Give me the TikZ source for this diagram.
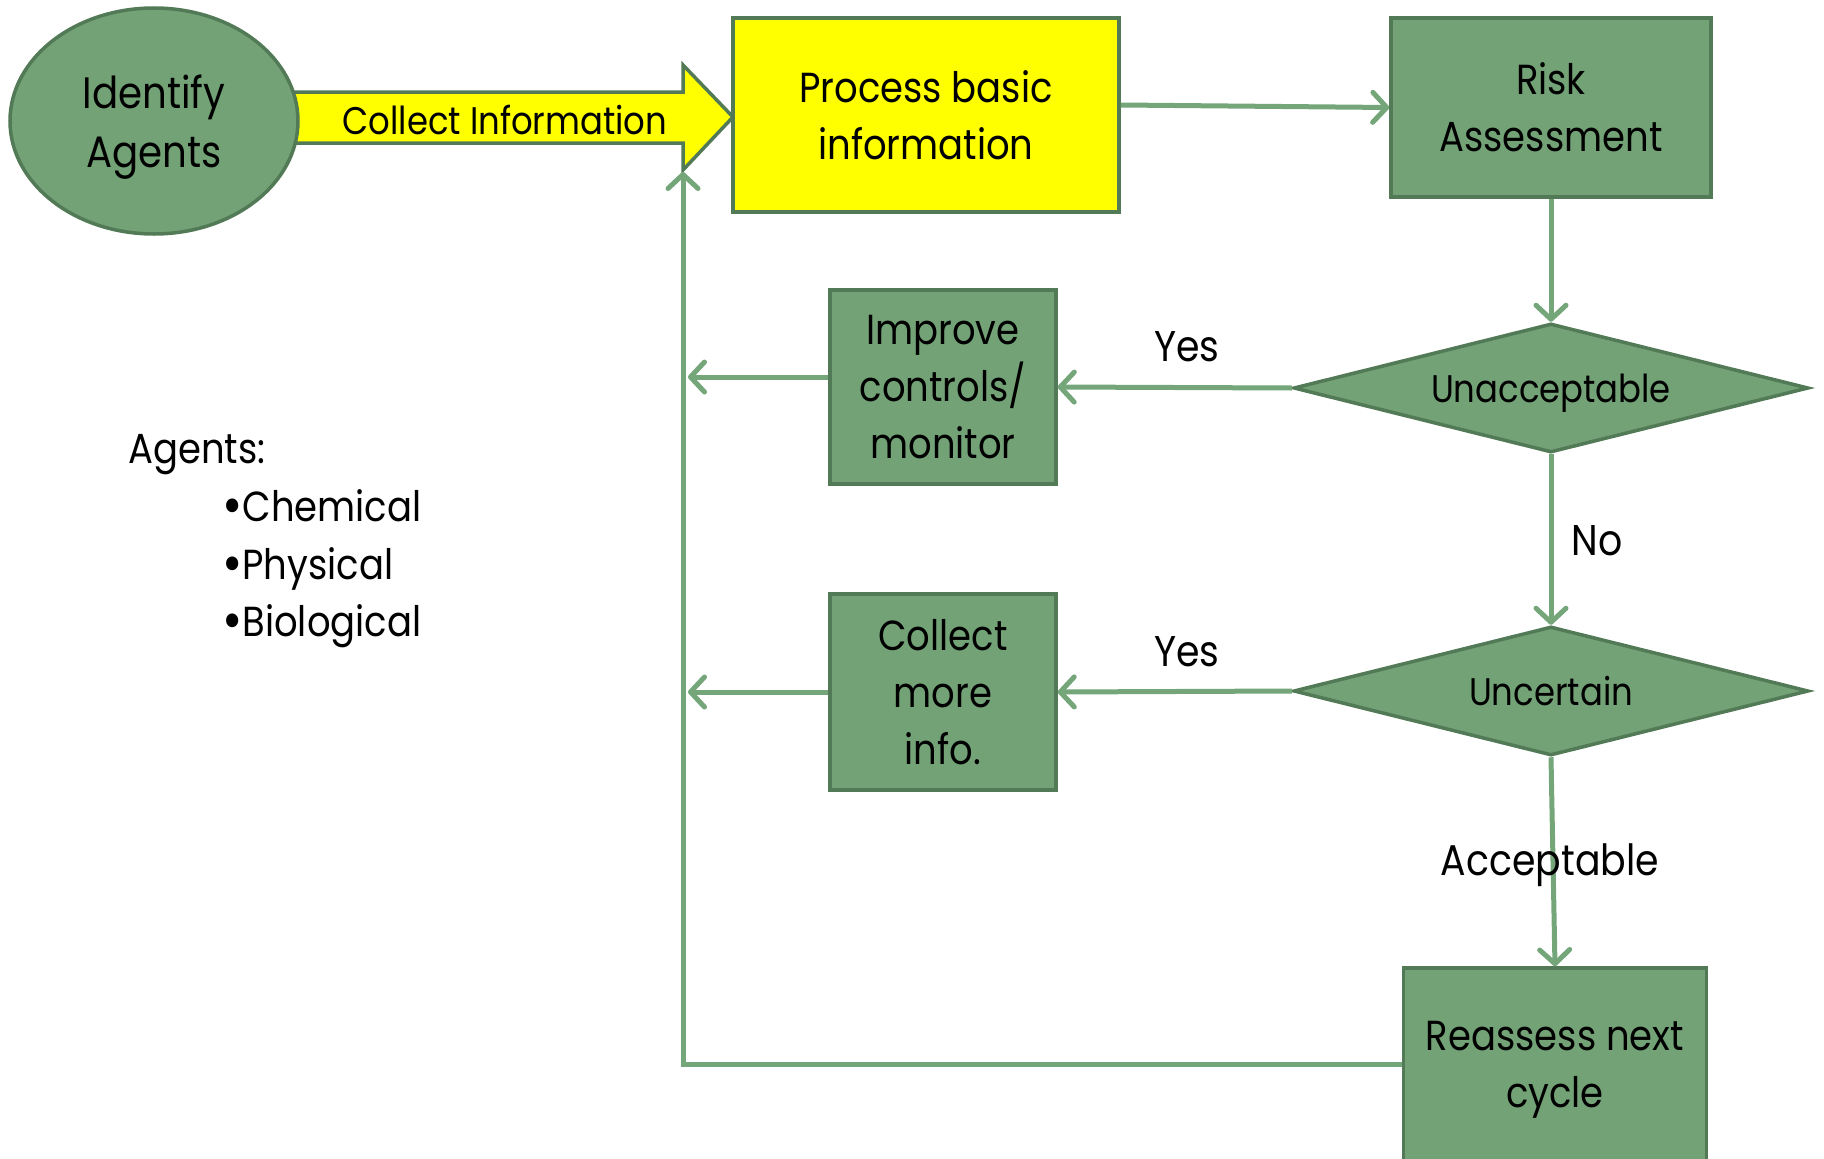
\documentclass[tikz,border=0pt]{standalone}
\usepackage{fontspec}
\setmainfont{Poppins}[FakeStretch=0.88]
\usetikzlibrary{shapes.geometric,arrows.meta,calc}
\definecolor{gfill}{HTML}{72A276}
\definecolor{gdraw}{HTML}{537A56}
\definecolor{gline}{HTML}{74A679}
\definecolor{yel}{HTML}{FFFF00}
\newcommand{\bigbul}{\raisebox{-3pt}{\fontsize{56}{57}\selectfont\textbullet}}
\begin{document}
\begin{tikzpicture}[x=1pt,y=-1pt,
  box/.style={rectangle,draw=gdraw,fill=gfill,line width=3.5pt,inner sep=0pt,align=center,font=\fontsize{42}{57}\selectfont},
  ybox/.style={box,fill=yel},
  dec/.style={diamond,draw=gdraw,fill=gfill,line width=3.5pt,inner sep=0pt,aspect=4,minimum width=515pt,minimum height=129pt,text depth=0pt,font=\fontsize{38.5}{43}\selectfont},
  conn/.style={draw=gline,line width=5pt,-{Straight Barb[length=14pt,width=30pt,round]}},
  lbl/.style={inner sep=0pt,font=\fontsize{43}{48}\selectfont},
  txt/.style={inner sep=0pt,align=left,font=\fontsize{42}{57.5}\selectfont},
]
\useasboundingbox (0,0) rectangle (1824,1159);

% big yellow arrow
\draw[draw=gdraw,fill=yel,line width=3.5pt,line join=miter]
  (280,92) -- (683,92) -- (683,65) -- (733,117) -- (683,170) -- (683,143) -- (280,143) -- cycle;
\node[inner sep=0pt,font=\fontsize{38.5}{43}\selectfont] (collinfo) at (505,120) {Collect Information};
\coordinate (ahb) at (683,172);

% nodes
\node[ellipse,draw=gdraw,fill=gfill,line width=3.5pt,inner sep=0pt,minimum width=288pt,minimum height=226pt] (ident) at (154,121) {};
\node[inner sep=0pt,align=center,font=\fontsize{44}{59}\selectfont] (identtxt) at (154,127) {Identify\\Agents};
\node[ybox,minimum width=386pt,minimum height=194pt] (proc) at (926,115) {Process basic\\information};
\node[box,minimum width=320pt,minimum height=179pt] (risk) at (1551,107.5) {Risk\\Assessment};
\node[dec] (unacc) at (1551,388) {Unacceptable};
\node[dec] (unc) at (1551,691) {Uncertain};
\node[box,minimum width=226pt,minimum height=194pt] (impr) at (943,387) {Improve\\controls/\\monitor};
\node[box,minimum width=226pt,minimum height=196pt] (coll) at (943,692) {Collect\\more\\info.};
\node[box,minimum width=303pt,minimum height=204pt] (reas) at (1555,1070) {Reassess next\\cycle};

% left text
\node[txt,anchor=west] (agents) at (128,455) {Agents:};
\node[txt,anchor=west] (agentlist) at (222,569) {\bigbul Chemical\\\bigbul Physical\\\bigbul Biological};

% connectors
\draw[conn] ($(proc.east)+(0,-10)$) -- (risk.west);
\draw[conn] (risk.south) -- (unacc.north);
\draw[conn] (unacc.west) -- (impr.east);
\draw[conn] (unacc.south) -- (unc.north);
\draw[conn] (unc.west) -- (coll.east);
\draw[conn] (unc.south) -- (reas.north);

\coordinate (l1) at (688,377);
\coordinate (lp) at (683,1064);
\draw[conn] (impr.west |- l1) -- (l1);
\draw[conn] (coll.west) -- (coll.west -| l1);
\draw[conn] (reas.west |- lp) -| (ahb);

% labels
\node[lbl,anchor=base] (yes1) at (1187,361) {Yes};
\node[lbl,anchor=base] (no) at (1597,555) {No};
\node[lbl,anchor=base] (yes2) at (1187,666) {Yes};
\node[lbl,anchor=base] (accept) at (1550,875) {Acceptable};
\end{tikzpicture}
\end{document}
